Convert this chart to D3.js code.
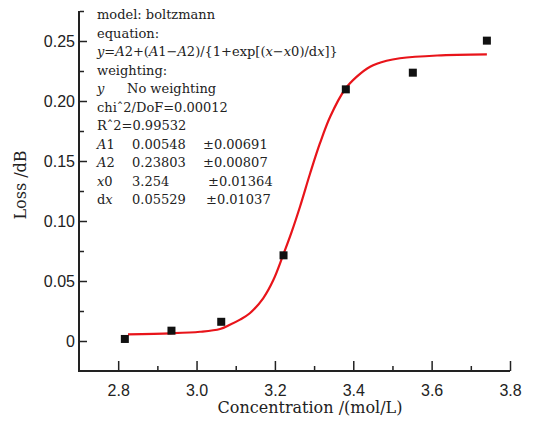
<!DOCTYPE html>
<html>
<head>
<meta charset="utf-8">
<script src="https://cdn.jsdelivr.net/npm/d3@7"></script>
<style>
  body { margin: 0; background: #fff; }
  svg { display: block; font-family: "DejaVu Serif", serif; }
  .tick text { font-size: 16px; fill: #222; }
</style>
</head>
<body>
<svg width="537" height="421"></svg>
<script>
// measured points (concentration, loss)
const pointX = [2.817, 2.936, 3.063, 3.222, 3.381, 3.552, 3.741];
const pointY = [0.0017, 0.0086, 0.016, 0.0714, 0.2097, 0.2236, 0.2503];

// fitted curve
const curveX = [2.825, 2.935, 3.009, 3.060, 3.085, 3.111, 3.136, 3.170, 3.196, 3.221, 3.243, 3.264,
  3.290, 3.315, 3.341, 3.379, 3.409, 3.443, 3.485, 3.519, 3.614, 3.741];
const curveY = [0.0056, 0.0064, 0.0077, 0.0100, 0.0135, 0.0178, 0.0231, 0.0356, 0.0508, 0.0717, 0.0912, 0.1119,
  0.1398, 0.1648, 0.1869, 0.2098, 0.2203, 0.2286, 0.2335, 0.2356, 0.2379, 0.2388];

const xTicks = [2.8, 3.0, 3.2, 3.4, 3.6, 3.8];
const xMinor = [2.9, 3.1, 3.3, 3.5, 3.7];
const yTicks = [0, 0.05, 0.10, 0.15, 0.20, 0.25];
const yMinor = [0.025, 0.075, 0.125, 0.175, 0.225, 0.275];

const paramNames = ["A1", "A2", "x0", "dx"];
const paramValues = ["0.00548", "0.23803", "3.254", "0.05529"];
const paramErrors = ["0.00691", "0.00807", "0.01364", "0.01037"];

const svg = d3.select("svg");

const x = d3.scaleLinear().domain([2.7, 3.8]).range([79, 510]);
const y = d3.scaleLinear().domain([-0.025, 0.275]).range([371, 11]);

const fmtY = d => d === 0 ? "0" : d3.format(".2f")(d);

// minor ticks first
svg.append("g")
  .attr("transform", "translate(0,371)")
  .call(d3.axisTop(x).tickValues(xMinor).tickSize(5).tickFormat(""))
  .call(g => g.select(".domain").remove())
  .selectAll("line").attr("stroke", "#222").attr("stroke-width", 1.5);

svg.append("g")
  .attr("transform", "translate(80,0)")
  .call(d3.axisRight(y).tickValues(yMinor).tickSize(4).tickFormat(""))
  .call(g => g.select(".domain").remove())
  .selectAll("line").attr("stroke", "#222").attr("stroke-width", 1.5);

// major x ticks: pointing up, labels below
const xAxisG = svg.append("g")
  .attr("transform", "translate(0,371)")
  .call(d3.axisTop(x).tickValues(xTicks).tickSize(10).tickFormat(d3.format(".1f")));
xAxisG.select(".domain").remove();
xAxisG.selectAll("line").attr("stroke", "#222").attr("stroke-width", 1.5);
xAxisG.selectAll("text").attr("y", 25).attr("dy", 0).attr("fill", "#222");

// major y ticks: pointing right, labels left
const yAxisG = svg.append("g")
  .attr("transform", "translate(80,0)")
  .call(d3.axisRight(y).tickValues(yTicks).tickSize(7).tickFormat(fmtY));
yAxisG.select(".domain").remove();
yAxisG.selectAll("line").attr("stroke", "#222").attr("stroke-width", 1.5);
yAxisG.selectAll("text").attr("x", -5).attr("text-anchor", "end").attr("dy", "0.35em").attr("fill", "#222");

// axis lines
svg.append("path")
  .attr("d", `M${x(2.7)},${y(0.275)}V${y(-0.025)}H${x(3.8)}`)
  .attr("fill", "none").attr("stroke", "#222").attr("stroke-width", 2);

// axis titles
svg.append("text")
  .attr("x", 310).attr("y", 413)
  .attr("text-anchor", "middle")
  .attr("font-size", 16).attr("fill", "#222")
  .text("Concentration /(mol/L)");

svg.append("text")
  .attr("transform", "translate(26,185) rotate(-90)")
  .attr("text-anchor", "middle")
  .attr("font-size", 16).attr("fill", "#222")
  .text("Loss /dB");

// fit curve
const curve = curveX.map((d, i) => [d, curveY[i]]);
svg.append("path")
  .datum(curve)
  .attr("d", d3.line().x(d => x(d[0])).y(d => y(d[1])).curve(d3.curveCatmullRom))
  .attr("fill", "none").attr("stroke", "#e8141a").attr("stroke-width", 2.2);

// points
svg.selectAll(".pt")
  .data(pointX.map((d, i) => [d, pointY[i]]))
  .enter().append("rect")
  .attr("class", "pt")
  .attr("x", d => x(d[0]) - 4)
  .attr("y", d => y(d[1]) - 4)
  .attr("width", 8).attr("height", 8)
  .attr("fill", "#111");

// fit report text
const info = svg.append("g")
  .attr("font-size", 13).attr("fill", "#222");
const lineY = i => 19 + i * 18.5;

const addLine = (i, parts, x0 = 97) => {
  const t = info.append("text").attr("x", x0).attr("y", lineY(i));
  parts.forEach(p => {
    t.append("tspan")
      .attr("font-style", p[1] ? "italic" : "normal")
      .text(p[0]);
  });
  return t;
};

addLine(0, [["model: boltzmann"]]);
addLine(1, [["equation:"]]);
addLine(2, [["y", 1], ["="], ["A", 1], ["2+("], ["A", 1], ["1\u2212"], ["A", 1], ["2)/{1+exp[("],
  ["x", 1], ["\u2212"], ["x", 1], ["0)/d"], ["x", 1], ["]}"]]);
addLine(3, [["weighting:"]]);
addLine(4, [["y", 1]]);
addLine(4, [["No weighting"]], 127);
addLine(5, [["chi\u02c62/DoF=0.00012"]]);
addLine(6, [["R\u02c62=0.99532"]]);

const nameParts = [[["A", 1], ["1"]], [["A", 1], ["2"]], [["x", 1], ["0"]], [["d"], ["x", 1]]];
const errX = [203, 203, 208, 206];
paramNames.forEach((n, j) => {
  addLine(7 + j, nameParts[j]);
  addLine(7 + j, [[paramValues[j]]], 132);
  addLine(7 + j, [["\u00b1" + paramErrors[j]]], errX[j]);
});
</script>
</body>
</html>
